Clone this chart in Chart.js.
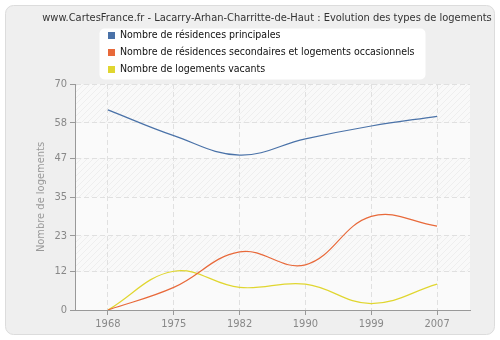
<!DOCTYPE html>
<html><head><meta charset="utf-8">
<script src="https://cdn.jsdelivr.net/npm/chart.js@4/dist/chart.umd.min.js"></script>
<style>html,body{margin:0;padding:0;background:#fff;}#wrap{width:500px;height:340px;position:relative;}</style>
</head><body><div id="wrap"><canvas id="c" width="500" height="340"></canvas></div>
<script>
const titleText = "www.CartesFrance.fr - Lacarry-Arhan-Charritte-de-Haut : Evolution des types de logements";
const yAxisTitle = "Nombre de logements";
const years = ["1968","1975","1982","1990","1999","2007"];
const yTicks = [0,12,23,35,47,58,70];
const principales = [62,54,48,53,57,60];
const secondaires = [0,7,18,14,29,26];
const vacants = [0,12,7,8,2,8];
const seriesNames = ["Nombre de résidences principales","Nombre de résidences secondaires et logements occasionnels","Nombre de logements vacants"];
const seriesColors = ["#4a72a8","#e8693a","#e0d630"];

const FONT = "'DejaVu Sans Condensed', 'DejaVu Sans', sans-serif";

function hatchPattern(ctx){
  const p = document.createElement('canvas'); p.width = 6; p.height = 6;
  const g = p.getContext('2d');
  g.fillStyle = '#f9f9f9'; g.fillRect(0,0,6,6);
  g.strokeStyle = '#eeeeee'; g.lineWidth = 1;
  g.beginPath(); g.moveTo(0,6); g.lineTo(6,0); g.moveTo(-3,3); g.lineTo(3,-3); g.moveTo(3,9); g.lineTo(9,3); g.stroke();
  return ctx.createPattern(p,'repeat');
}

const bgPlugin = {
  id:'bg',
  beforeDraw(chart){
    const ctx = chart.ctx;
    ctx.save();
    ctx.fillStyle = '#fff'; ctx.fillRect(0,0,500,340);
    ctx.beginPath();
    ctx.roundRect(5.5,5.5,489,329,8);
    ctx.fillStyle = '#efefef'; ctx.fill();
    ctx.strokeStyle = '#dcdcdc'; ctx.lineWidth = 1; ctx.stroke();
    const a = chart.chartArea; const y = chart.scales.y;
    const pat = hatchPattern(ctx);
    for (let i=0;i<yTicks.length-1;i++){
      const top = y.getPixelForValue(yTicks[i+1]);
      const bot = y.getPixelForValue(yTicks[i]);
      ctx.fillStyle = (i%2===0) ? '#fafafa' : pat;
      ctx.fillRect(a.left, top, a.right-a.left, bot-top);
    }
    // title
    ctx.fillStyle = '#333'; ctx.font = "11px " + FONT; ctx.textBaseline='middle'; ctx.textAlign='center';
    ctx.fillText(titleText, 267, 18);
    // legend box
    ctx.beginPath(); ctx.roundRect(99.5,28.5,326,51,5);
    ctx.fillStyle='#fff'; ctx.fill();
    ctx.textAlign='left';
    for (let i=0;i<3;i++){
      const yy = 35 + i*17;
      ctx.fillStyle = seriesColors[i]; ctx.fillRect(108,yy-3,7,7);
      ctx.fillStyle = '#111'; ctx.font = "10.5px " + FONT;
      ctx.fillText(seriesNames[i], 120, yy+0.5);
    }
    ctx.restore();
  }
};

new Chart(document.getElementById('c'), {
  type:'line',
  data:{ labels: years, datasets:[
    {label:seriesNames[0], data:principales, borderColor:seriesColors[0]},
    {label:seriesNames[1], data:secondaires, borderColor:seriesColors[1]},
    {label:seriesNames[2], data:vacants, borderColor:seriesColors[2]}
  ].map(d=>Object.assign(d,{borderWidth:1.2, pointRadius:0, tension:0.4, fill:false}))},
  options:{
    responsive:false, animation:false, devicePixelRatio:1,
    layout:{padding:{left:0,top:84,right:30,bottom:0}},
    plugins:{legend:{display:false}, title:{display:false}, tooltip:{enabled:false}},
    scales:{
      x:{ offset:true,
        grid:{offset:false, color:'#e0e0e0', tickColor:'#999', tickBorderDash:[], tickLength:5, drawTicks:true},
        border:{color:'#999', width:1, dash:[5,3]},
        ticks:{color:'#888', font:{family:FONT,size:11}, padding:3},
        afterFit(s){ s.height = 30; }
      },
      y:{ min:0, max:70,
        afterBuildTicks(s){ s.ticks = yTicks.map(v=>({value:v})); },
        grid:{color:'#e0e0e0', tickColor:'#999', tickBorderDash:[], tickLength:5},
        border:{color:'#999', width:1, dash:[5,3]},
        ticks:{color:'#888', font:{family:FONT,size:11}, padding:3, autoSkip:false},
        title:{display:true, text:yAxisTitle, color:'#999', font:{family:FONT,size:11}, padding:{top:35,bottom:0}},
        afterFit(s){ s.width = 75; }
      }
    }
  },
  plugins:[bgPlugin]
});
</script></body></html>
